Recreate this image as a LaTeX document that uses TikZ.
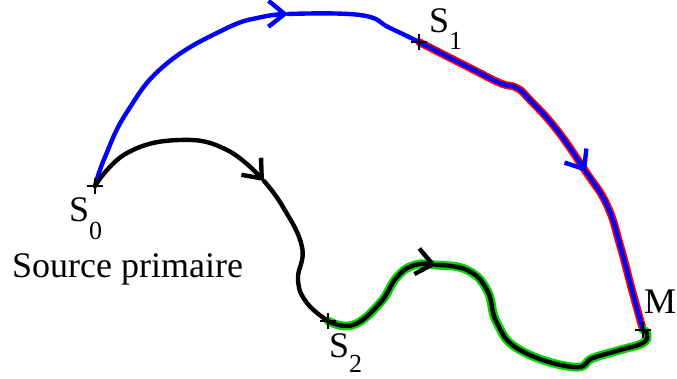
\documentclass[tikz,border=0pt]{standalone}
\usepackage{fontspec}
\setmainfont{Liberation Serif}
\usetikzlibrary{arrows.meta}
\begin{document}
\begin{tikzpicture}[x=1pt,y=-1pt,
  bluepath/.style={draw=blue, line width=4.4pt, line join=round, line cap=round},
  blackpath/.style={draw=black, line width=4.4pt, line join=round, line cap=round},
  redunder/.style={draw=red, line width=7.8pt, line join=round, line cap=round},
  greenunder/.style={draw=green!85!black, line width=8.8pt, line join=round, line cap=round},
  barb/.style={-{Straight Barb[length=16pt,width=26pt]}},
  crossmark/.style={draw=black, line width=1.3pt},
  lbl/.style={anchor=base west, inner sep=0pt, font=\fontsize{36}{40}\selectfont},
  sm/.style={smooth, tension=0.75}]
\useasboundingbox (0,0) rectangle (677,379);
\coordinate (S0) at (95,186);
\coordinate (S1) at (419,42);
\coordinate (S2) at (328,321);
\coordinate (M) at (643,330);
\coordinate (A1) at (288,14);
\coordinate (A2) at (264,181);
\coordinate (A3) at (436,265);
\coordinate (A4) at (586,172);
% underlays
\draw[redunder] plot[sm] coordinates {(S1) (470,68) (500,83) (517,88) (530,100) (557,130) (A4) (607,205) (620,245) (632,290) (M)};
\draw[greenunder] plot[sm] coordinates {(S2) (353,325) (380,303) (397,277) (415,265) (A3) (467,270) (487,290) (497,323) (520,350) (573,367) (593,358) (620,350) (643,343) (647,334) (M)};
% blue path
\draw[bluepath, barb] plot[sm] coordinates {(S0) (105,157) (127,112) (165,65) (225,29) (262,17) (A1)};
\draw[bluepath] plot[sm] coordinates {(A1) (360,15) (390,28) (S1)};
\draw[bluepath, barb] plot[sm] coordinates {(S1) (470,68) (500,83) (517,88) (530,100) (557,130) (A4)};
\draw[bluepath] plot[sm] coordinates {(A4) (607,205) (620,245) (632,290) (M)};
% black path
\draw[blackpath, barb] plot[sm] coordinates {(S0) (127,153) (180,140) (227,150) (A2)};
\draw[blackpath] plot[sm] coordinates {(A2) (283,207) (302,247) (298,280) (307,303) (S2)};
\draw[blackpath, barb] plot[sm] coordinates {(S2) (353,325) (380,303) (397,277) (415,265) (A3)};
\draw[blackpath] plot[sm] coordinates {(A3) (467,270) (487,290) (497,323) (520,350) (573,367) (593,358) (620,350) (643,343) (647,334) (M)};
% cross marks
\foreach \p in {S0,S1,S2,M} {
  \draw[crossmark] ([xshift=-8pt]\p) -- ([xshift=8pt]\p);
  \draw[crossmark] ([yshift=-8pt]\p) -- ([yshift=8pt]\p);
}
% labels
\node[lbl] (L0) at (69,222) {S\raisebox{-18pt}{\fontsize{26}{30}\selectfont 0}};
\node[lbl] (L1) at (429,33) {S\raisebox{-17pt}{\fontsize{26}{30}\selectfont 1}};
\node[lbl] (L2) at (329,357) {S\raisebox{-15pt}{\fontsize{26}{30}\selectfont 2}};
\node[lbl] (LM) at (644,313) {M};
\node[lbl] (LS) at (12,277) {Source primaire};
\end{tikzpicture}
\end{document}
